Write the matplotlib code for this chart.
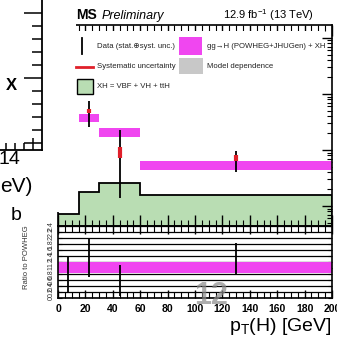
import numpy as np
import matplotlib
matplotlib.use("Agg")
import matplotlib.pyplot as plt
from matplotlib.ticker import MultipleLocator, LogLocator, NullFormatter
from matplotlib.patches import Rectangle
from matplotlib.lines import Line2D

plt.rcParams["font.family"] = ["Liberation Sans", "DejaVu Sans"]
plt.rcParams["mathtext.fontset"] = "custom"
plt.rcParams["mathtext.rm"] = "Liberation Sans"
plt.rcParams["mathtext.it"] = "Liberation Sans:italic"

# ---- data: differential cross section vs pT(H), fb/GeV ----
bin_edges = [0, 15, 30, 60, 200]
pred_ggh = [0.120, 0.0373, 0.0209, 0.0052]          # gg->H (POWHEG+JHUGen) + XH
pred_rel_up = 0.20
pred_rel_dn = 0.17
xh_vbf_vh_tth = [7.2e-4, 1.8e-3, 2.6e-3, 1.6e-3]     # XH = VBF + VH + ttH
data_val = [0.092, 0.0497, 0.0092, 0.0072]
data_err_up = [0.072, 0.0253, 0.0136, 0.0024]
data_err_dn = [0.072, 0.0239, 0.0078, 0.0032]
data_syst = [0.010, 0.0045, 0.0020, 0.0009]
x_ticks = [0, 20, 40, 60, 80, 100, 120, 140, 160, 180, 200]
ratio_ticks = [0, 0.2, 0.4, 0.6, 0.8, 1, 1.2, 1.4, 1.6, 1.8, 2, 2.2, 2.4]

W, H = 337, 339
fig = plt.figure(figsize=(W / 100, H / 100), dpi=100)
fig.patch.set_facecolor("white")


def fx(x):
    return x / W


def fy(y):
    return 1 - y / H


edges = np.array(bin_edges, dtype=float)
centers = 0.5 * (edges[:-1] + edges[1:])
pred = np.array(pred_ggh)
xh = np.array(xh_vbf_vh_tth)
dval = np.array(data_val)
eup = np.array(data_err_up)
edn = np.array(data_err_dn)
syst = np.array(data_syst)

MAG = "#f046f0"
GREEN = "#b9ddb3"
RED = "#e0202a"

# ---- main panel ----
ax = fig.add_axes([fx(58), fy(226), 274 / W, 201 / H])
rax = fig.add_axes([fx(58), fy(298), 274 / W, 72 / H], sharex=ax)

ax.set_yscale("log")
ax.set_ylim(4.4e-4, 1.7)
ax.set_xlim(0, 200)

ax.stairs(xh, edges, baseline=1e-6, fill=True, color=GREEN, zorder=1)
ax.stairs(xh, edges, baseline=1e-6, color="black", lw=1.3, zorder=1.5)

for i in range(len(pred)):
    ax.fill_between([edges[i], edges[i + 1]],
                    pred[i] * (1 - pred_rel_dn), pred[i] * (1 + pred_rel_up),
                    color=MAG, lw=0, zorder=2)

ax.errorbar(centers, dval, yerr=[edn, eup], fmt="none", ecolor="black",
            elinewidth=1.3, capsize=0, zorder=3)
ax.errorbar(centers, dval, yerr=syst, fmt="none", ecolor=RED,
            elinewidth=3.0, capsize=0, zorder=4)

ax.yaxis.set_minor_locator(LogLocator(base=10, subs=np.arange(2, 10)))
ax.yaxis.set_minor_formatter(NullFormatter())
ax.tick_params(axis="y", which="both", direction="in", left=False, right=True,
               labelleft=False)
ax.tick_params(axis="y", which="major", length=7, width=1)
ax.tick_params(axis="y", which="minor", length=3.5, width=0.8)
ax.xaxis.set_major_locator(MultipleLocator(20))
ax.xaxis.set_minor_locator(MultipleLocator(5))
ax.tick_params(axis="x", which="both", direction="in", top=True, bottom=True,
               labelbottom=False)
ax.tick_params(axis="x", which="major", length=8, width=1)
ax.tick_params(axis="x", which="minor", length=4, width=0.8)
for s in ax.spines.values():
    s.set_linewidth(1.2)

# ---- ratio panel ----
ratio = dval / pred
r_up = eup / pred
r_dn = edn / pred
rax.set_ylim(0, 2.4)
rax.set_axisbelow(True)
rax.yaxis.grid(True, color="black", lw=0.9)
rax.fill_between([edges[0], edges[-1]], 1 - pred_rel_dn, 1 + pred_rel_up,
                 color=MAG, lw=0, zorder=2)
rax.errorbar(centers, ratio, yerr=[r_dn, r_up], fmt="none", ecolor="black",
             elinewidth=1.3, capsize=0, zorder=3)
rax.set_yticks(ratio_ticks)
rax.set_yticklabels([f"{v:g}" for v in ratio_ticks], rotation=90,
                    fontsize=5, va="center", color="#333333")
rax.set_xticks(x_ticks)
rax.set_xticklabels([str(v) for v in x_ticks], fontweight="bold", fontsize=7.5)
rax.xaxis.set_minor_locator(MultipleLocator(5))
rax.tick_params(axis="x", which="both", direction="in", top=True, bottom=True,
                pad=4)
rax.tick_params(axis="x", which="major", length=6, width=1)
rax.tick_params(axis="x", which="minor", length=4, width=0.8)
rax.tick_params(axis="y", which="both", direction="in", length=3, pad=2.5,
                right=True)
rax.set_xlim(0, 200)
for s in rax.spines.values():
    s.set_linewidth(1.2)

fig.text(fx(27), fy(257), "Ratio to POWHEG", rotation=90, ha="center",
         va="center", fontsize=5.5, color="#333333")
fig.text(fx(332), fy(331), r"p$_{\mathregular{T}}$(H) [GeV]", ha="right",
         va="baseline", fontsize=14)

# ---- neighbouring panel on the left ----
fig.patches.append(Rectangle((0, fy(212)), fx(76), 1 - fy(212),
                             transform=fig.transFigure, facecolor="white",
                             edgecolor="none", zorder=5))
lax = fig.add_axes([0, fy(150), fx(42), 150 / H], zorder=6)
lax.patch.set_alpha(0)
lax.set_xlim(0, 42)
lax.set_ylim(0, 150)
lax.spines["left"].set_visible(False)
lax.spines["top"].set_visible(False)
lax.spines["right"].set_linewidth(1.3)
lax.spines["bottom"].set_linewidth(1.3)
lax.yaxis.tick_right()
lax.set_yticks([7, 72, 137])
lax.set_yticks(np.arange(7, 150, 13), minor=True)
lax.set_xticks([33])
lax.set_xticks([6, 15, 24], minor=True)
lax.tick_params(which="both", direction="in", labelleft=False,
                labelright=False, labelbottom=False, width=1.1)
lax.tick_params(axis="y", which="major", length=13)
lax.tick_params(axis="y", which="minor", length=7)
lax.tick_params(axis="x", which="major", length=9)
lax.tick_params(axis="x", which="minor", length=5)
fig.text(fx(11), fy(86), "X", fontsize=12, fontweight="bold", ha="center",
         va="center", zorder=7)
fig.text(fx(20), fy(160), "14", fontsize=14, ha="right", va="center", zorder=7)
fig.text(fx(0), fy(187), "eV)", fontsize=15, ha="left", va="center", zorder=7)
fig.text(fx(16), fy(215), "b", fontsize=14, ha="center", va="center", zorder=7)

# ---- header ----
fig.text(fx(76), fy(15), "MS", fontsize=10, fontweight="bold", ha="left",
         va="center", zorder=7)
fig.text(fx(102), fy(16), "Preliminary", fontsize=9, style="italic",
         ha="left", va="center", zorder=7)
fig.text(fx(314), fy(15), r"12.9 fb$^{-1}$ (13 TeV)", fontsize=8,
         ha="right", va="center", zorder=7)

# ---- legend ----
fig.patches.append(Rectangle((fx(75), fy(97)), fx(322) - fx(75), fy(31) - fy(97),
                             transform=fig.transFigure, facecolor="white",
                             edgecolor="none", zorder=5))
LFS = 5.6
fig.add_artist(Line2D([fx(82), fx(82)], [fy(38), fy(54)], color="black",
                      lw=1.3, transform=fig.transFigure, zorder=6))
fig.text(fx(97), fy(47), "Data (stat.\u2295syst. unc.)", fontsize=LFS,
         ha="left", va="center", zorder=7, color="#222222")
fig.add_artist(Line2D([fx(76), fx(93)], [fy(67), fy(67)], color=RED, lw=2,
                      transform=fig.transFigure, zorder=6))
fig.text(fx(97), fy(67), "Systematic uncertainty", fontsize=LFS, ha="left",
         va="center", zorder=7, color="#222222")
fig.patches.append(Rectangle((fx(77), fy(94)), fx(93) - fx(77), fy(79) - fy(94),
                             transform=fig.transFigure, facecolor=GREEN,
                             edgecolor="black", lw=1, zorder=6))
fig.text(fx(97), fy(87), "XH = VBF + VH + ttH", fontsize=LFS, ha="left",
         va="center", zorder=7, color="#222222")
fig.patches.append(Rectangle((fx(179), fy(55)), fx(202) - fx(179), fy(37) - fy(55),
                             transform=fig.transFigure, facecolor=MAG,
                             edgecolor="none", zorder=6))
fig.text(fx(207), fy(46), "gg\u2192H (POWHEG+JHUGen) + XH", fontsize=LFS,
         ha="left", va="center", zorder=7, color="#222222")
fig.patches.append(Rectangle((fx(179), fy(74)), fx(203) - fx(179), fy(58) - fy(74),
                             transform=fig.transFigure, facecolor="#c8c8c8",
                             edgecolor="none", zorder=6))
fig.text(fx(207), fy(66), "Model dependence", fontsize=LFS, ha="left",
         va="center", zorder=7, color="#222222")

# slide page number
fig.text(fx(211), fy(296), "12", fontsize=22, fontweight="bold",
         color="#8a8a8a", alpha=0.7, ha="center", va="center", zorder=10)

fig.savefig("out.png", dpi=100)
